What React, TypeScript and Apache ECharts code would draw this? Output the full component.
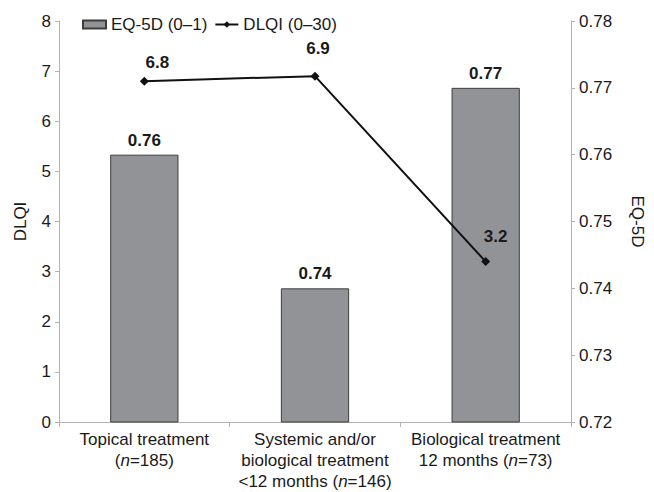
import React, { useEffect, useRef } from "react";
import * as echarts from "echarts";

const categories = [
  "Topical treatment\n({i|n}=185)",
  "Systemic and/or\nbiological treatment\n<12 months ({i|n}=146)",
  "Biological treatment\n12 months ({i|n}=73)",
];
const eq5dValues = [0.76, 0.74, 0.77];
const dlqiValues = [6.8, 6.9, 3.2];
const leftTicks = { min: 0, max: 8, interval: 1 };
const rightTicks = { min: 0.72, max: 0.78, interval: 0.01 };

const FONT = "'Liberation Sans', Arial, sans-serif";
const TEXT = "#1a1a1a";
const AXIS = "#b3b3b3";
const lineLabelOffsets: [number, number][] = [
  [13, -1],
  [3, -10],
  [10, -7],
];

export default function App() {
  const ref = useRef<HTMLDivElement>(null);
  useEffect(() => {
    if (!ref.current) return;
    const chart = echarts.init(ref.current, null, { renderer: "svg" });
    chart.setOption({
      animation: false,
      backgroundColor: "#ffffff",
      textStyle: { fontFamily: FONT, color: TEXT },
      grid: { left: 59, right: 70, top: 21, bottom: 68, containLabel: false },
      legend: {
        left: 82,
        top: 16,
        padding: 0,
        itemWidth: 23,
        itemHeight: 8,
        itemGap: 7,
        textStyle: { fontSize: 17, color: TEXT, fontFamily: FONT },
        data: [
          { name: "EQ-5D (0–1)", icon: "rect" },
          { name: "DLQI (0–30)" },
        ],
      },
      xAxis: {
        type: "category",
        data: categories,
        axisLine: { lineStyle: { color: AXIS, width: 1 } },
        axisTick: { show: true, length: 5, lineStyle: { color: AXIS } },
        axisLabel: {
          interval: 0,
          margin: 7,
          fontSize: 17,
          lineHeight: 21,
          color: TEXT,
          fontFamily: FONT,
          rich: {
            i: { fontStyle: "italic", fontSize: 17, lineHeight: 21, color: TEXT, fontFamily: FONT },
          },
        },
      },
      yAxis: [
        {
          type: "value",
          name: "DLQI",
          nameLocation: "middle",
          nameGap: 30,
          nameTextStyle: { fontSize: 17, color: TEXT, fontFamily: FONT },
          min: leftTicks.min,
          max: leftTicks.max,
          interval: leftTicks.interval,
          splitLine: { show: false },
          axisLine: { show: true, lineStyle: { color: AXIS } },
          axisTick: { show: true, length: 4, lineStyle: { color: AXIS } },
          axisLabel: { fontSize: 17, color: TEXT, margin: 8, fontFamily: FONT },
        },
        {
          type: "value",
          name: "EQ-5D",
          nameLocation: "middle",
          nameGap: 58,
          nameRotate: -90,
          nameTextStyle: { fontSize: 17, color: TEXT, fontFamily: FONT },
          min: rightTicks.min,
          max: rightTicks.max,
          interval: rightTicks.interval,
          position: "right",
          splitLine: { show: false },
          axisLine: { show: true, lineStyle: { color: AXIS } },
          axisTick: { show: true, length: 4, lineStyle: { color: AXIS } },
          axisLabel: {
            fontSize: 17,
            color: TEXT,
            margin: 8,
            fontFamily: FONT,
            formatter: (v: number) => v.toFixed(2),
          },
        },
      ],
      series: [
        {
          name: "EQ-5D (0–1)",
          type: "bar",
          yAxisIndex: 1,
          barWidth: "40%",
          data: eq5dValues,
          itemStyle: { color: "#929397", borderColor: "#3d3d3d", borderWidth: 1 },
          label: {
            show: true,
            position: "top",
            distance: 6,
            fontSize: 17,
            fontWeight: "bold",
            color: TEXT,
            fontFamily: FONT,
            formatter: (p: any) => p.value.toFixed(2),
          },
        },
        {
          name: "DLQI (0–30)",
          type: "line",
          yAxisIndex: 0,
          symbol: "diamond",
          symbolSize: 9,
          lineStyle: { color: "#111111", width: 2 },
          itemStyle: { color: "#111111" },
          data: dlqiValues.map((v, i) => ({
            value: v,
            label: {
              show: true,
              position: "top",
              offset: lineLabelOffsets[i],
              fontSize: 17,
              fontWeight: "bold",
              color: TEXT,
              fontFamily: FONT,
              formatter: (p: any) => p.value.toFixed(1),
            },
          })),
        },
      ],
    });
    return () => chart.dispose();
  }, []);
  return (
    <div
      ref={ref}
      style={{ position: "fixed", left: 0, top: 0, width: 654, height: 492 }}
    />
  );
}
